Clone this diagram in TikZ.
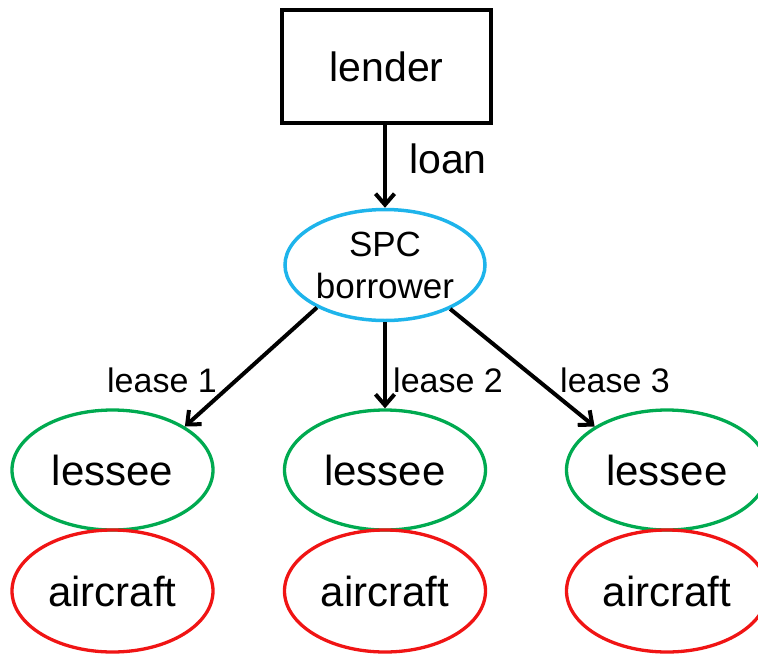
\documentclass[tikz,border=0pt]{standalone}
\usepackage{fontspec}
\setmainfont{Liberation Sans}
\usetikzlibrary{shapes.geometric,arrows.meta}
\definecolor{spcblue}{RGB}{30,180,235}
\definecolor{lgreen}{RGB}{0,170,80}
\definecolor{ared}{RGB}{240,20,20}
\tikzset{
  bigtext/.style={font=\fontsize{42}{48}\selectfont},
  oval/.style={ellipse, line width=3.3pt, minimum width=201pt, minimum height=120pt, inner sep=0pt, bigtext},
  lesseebox/.style={oval, draw=lgreen},
  aircraftbox/.style={oval, draw=ared, minimum height=122pt},
  arr/.style={line width=4pt, -{Straight Barb[length=11pt,width=19pt,line width=4pt]}},
  lbl/.style={anchor=base west, inner sep=0pt, font=\fontsize{34}{40}\selectfont}
}
\begin{document}
\begin{tikzpicture}[x=1pt,y=-1pt]
\useasboundingbox (0,0) rectangle (758,654);
\clip (0,0) rectangle (758,654);
\node[draw, line width=4.5pt, minimum width=209pt, minimum height=113pt, inner sep=0pt, font=\fontsize{41}{48}\selectfont] (lender) at (386.5,66.5) {lender};
\node[ellipse, draw=spcblue, line width=3.5pt, minimum width=200pt, minimum height=111pt, inner sep=0pt, align=center, font=\fontsize{35}{42}\selectfont] (spc) at (385,265) {SPC\\borrower};
\node[lesseebox] (l1) at (112.5,470) {lessee};
\node[lesseebox] (l2) at (385,470) {lessee};
\node[lesseebox] (l3) at (667,470) {lessee};
\node[aircraftbox] (a1) at (112.5,591) {aircraft};
\node[aircraftbox] (a2) at (385,591) {aircraft};
\node[aircraftbox] (a3) at (667,591) {aircraft};
\draw[arr] (lender.south -| spc.north) -- (spc.north);
\draw[arr] (spc.212) -- (l1.31);
\draw[arr] (spc.south) -- (l2.north);
\draw[arr] (spc.326) -- (l3.149);
\node[anchor=base west, inner sep=0pt, font=\fontsize{41}{48}\selectfont] (loan) at (409,173) {loan};
\node[lbl] (lease1) at (107,392) {lease 1};
\node[lbl] (lease2) at (393,392) {lease 2};
\node[lbl] (lease3) at (560,392) {lease 3};
\end{tikzpicture}
\end{document}
